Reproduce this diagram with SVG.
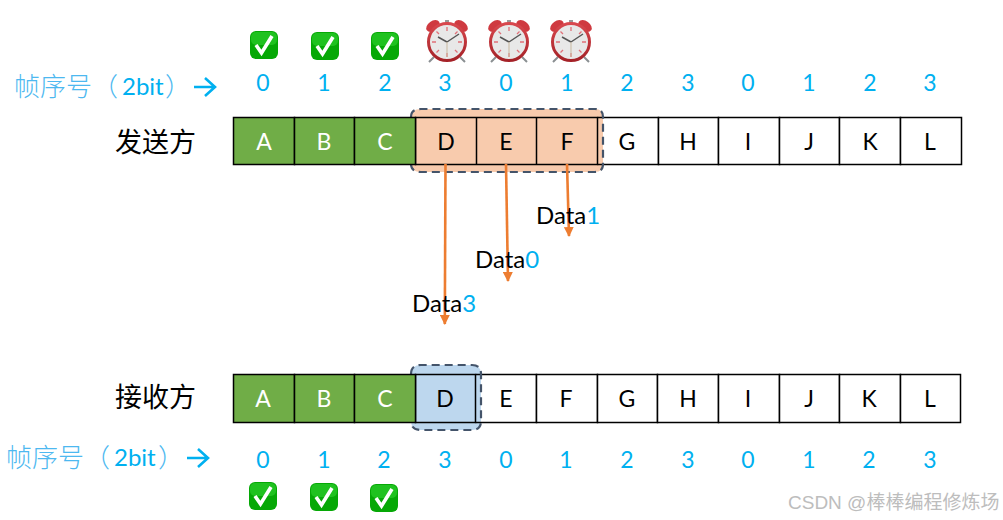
<svg xmlns="http://www.w3.org/2000/svg" width="1003" height="520" viewBox="0 0 1003 520">
<style>
text{font-family:"Lato","Liberation Sans","Noto Sans CJK SC",sans-serif}
.c{fill:#fff;stroke:#000;stroke-width:1.5}
.g{fill:#70ad47}
.l{font-size:23px;text-anchor:middle;fill:#000}
.w{fill:#fff}
.n{font-size:23px;text-anchor:middle;fill:#00b0f0}
.cjk{font-family:"Noto Sans CJK SC",sans-serif;font-size:27px;fill:#000}
.seq{font-family:"Noto Sans CJK SC",sans-serif;font-size:26px;font-weight:300;fill:#4db8f0}
.seq .sb{font-family:"Lato",sans-serif;font-size:24px;font-weight:400;fill:#00b0f0}
.d{font-size:24px;fill:#000}
.d tspan{fill:#00b0f0}
.dash{stroke:#44546a;stroke-width:2.2;stroke-dasharray:8 5}
.conn{stroke:#ed7d31;stroke-width:2.6;fill:none;marker-end:url(#ah)}
.arr{stroke:#00b0f0;stroke-width:2.6;fill:none}
</style>
<defs>
<marker id="ah" markerUnits="userSpaceOnUse" markerWidth="10" markerHeight="10" refX="9" refY="5" orient="auto" viewBox="0 0 10 10"><path d="M0 0 L10 5 L0 10 Z" fill="#ed7d31"/></marker>
<linearGradient id="rim" x1="0" y1="0" x2="0" y2="1"><stop offset="0" stop-color="#d8484e"/><stop offset="1" stop-color="#a52228"/></linearGradient>
<g id="check">
<rect x="-14" y="-14" width="28" height="28" rx="6" fill="#06a806"/>
<rect x="-13" y="-13" width="26" height="13" rx="5" fill="#1fc21f"/>
<path d="M-8 0 L-2.500 8 L8 -9" fill="none" stroke="#fff" stroke-width="3.600"/>
</g>
<g id="clock">
<path d="M-13 15 L-18 20 M13 15 L18 20" stroke="#8a8f92" stroke-width="2"/>
<ellipse cx="-14" cy="-16" rx="7.500" ry="5" transform="rotate(-35 -14 -16)" fill="#cf3a40"/>
<ellipse cx="14" cy="-16" rx="7.500" ry="5" transform="rotate(35 14 -16)" fill="#cf3a40"/>
<rect x="-2" y="-22" width="4" height="3" fill="#999"/>
<circle r="18.500" fill="#e8e8e8" stroke="url(#rim)" stroke-width="3"/>
<path d="M0 -15 V-11 M0 15 V11 M-15 0 H-11 M15 0 H11 M-10.500 -10.500 L-8 -8 M10.500 -10.500 L8 -8 M-10.500 10.500 L-8 8 M10.500 10.500 L8 8" stroke="#e07078" stroke-width="1.300"/>
<path d="M0 0 L-9 -5 M0 0 L12 -8" stroke="#555" stroke-width="1.500"/>
<path d="M0 0 V15" stroke="#c9b9a0" stroke-width="1"/>
</g>
</defs>

<g id="status-top">
<use href="#check" x="264" y="45"/><use href="#check" x="325" y="46"/><use href="#check" x="385" y="46"/>
<use href="#clock" x="447" y="42"/><use href="#clock" x="509" y="42"/><use href="#clock" x="571" y="42"/>
</g>

<g id="seq-top">
<text x="14" y="96" class="seq">帧序号（<tspan class="sb" x="122" y="95">2bit</tspan><tspan x="165" y="96">）</tspan></text>
<path class="arr" d="M194 87 H214 M205 78 L215 87 L205 96"/>
<text x="263" y="91" class="n">0</text><text x="324" y="91" class="n">1</text><text x="385" y="91" class="n">2</text><text x="445" y="91" class="n">3</text><text x="506" y="91" class="n">0</text><text x="567" y="91" class="n">1</text><text x="627" y="91" class="n">2</text><text x="688" y="91" class="n">3</text><text x="748" y="91" class="n">0</text><text x="809" y="91" class="n">1</text><text x="870" y="91" class="n">2</text><text x="930" y="91" class="n">3</text>
</g>

<g id="sender">
<text x="115" y="152" class="cjk">发送方</text>
<g id="sender-cells">
<rect x="597.500" y="117.500" width="61" height="47" class="c"/><rect x="658.500" y="117.500" width="60" height="47" class="c"/><rect x="718.500" y="117.500" width="61" height="47" class="c"/><rect x="779.500" y="117.500" width="60" height="47" class="c"/><rect x="839.500" y="117.500" width="61" height="47" class="c"/><rect x="900.500" y="117.500" width="61" height="47" class="c"/>
</g>
<g id="sender-window">
<path d="M421 109 H595 Q603 109 603 117 V164 Q603 172 595 172 H421 Q411 172 411 164 V117 Q411 109 421 109 Z" fill="#f8cbad"/>
<path d="M415.500 117.500 H597.500 V164.500 H415.500 Z M476.500 117.500 V164.500 M536.500 117.500 V164.500" fill="none" stroke="#000" stroke-width="1.500"/>
<path d="M597.500 117.500 H603 M597.500 164.500 H603" stroke="#000" stroke-width="1.500"/>
<path class="dash" fill="none" d="M411 117 Q411 109 421 109 H595 Q603 109 603 117 V164 Q603 172 595 172 H421 Q411 172 411 164"/>
</g>
<rect x="233.500" y="117.500" width="61" height="47" class="c g"/><rect x="294.500" y="117.500" width="60" height="47" class="c g"/><rect x="354.500" y="117.500" width="61" height="47" class="c g"/>
<text x="264" y="150" class="l w">A</text><text x="324" y="150" class="l w">B</text><text x="385" y="150" class="l w">C</text><text x="446" y="150" class="l">D</text><text x="506" y="150" class="l">E</text><text x="567" y="150" class="l">F</text><text x="627" y="150" class="l">G</text><text x="688" y="150" class="l">H</text><text x="748" y="150" class="l">I</text><text x="809" y="150" class="l">J</text><text x="870" y="150" class="l">K</text><text x="930" y="150" class="l">L</text>
</g>

<g id="connectors">
<path class="conn" d="M445.500 164 L444.800 324"/>
<path class="conn" d="M506 164 L508 281"/>
<path class="conn" d="M567 164 L569 236"/>
</g>

<g id="data-labels">
<text x="536" y="224" class="d">Data<tspan>1</tspan></text>
<text x="475" y="268" class="d">Data<tspan>0</tspan></text>
<text x="412" y="312" class="d">Data<tspan>3</tspan></text>
</g>

<g id="receiver">
<text x="115" y="407" class="cjk">接收方</text>
<g id="receiver-cells">
<rect x="475.500" y="374.500" width="61" height="48" class="c"/><rect x="536.500" y="374.500" width="61" height="48" class="c"/><rect x="597.500" y="374.500" width="60" height="48" class="c"/><rect x="657.500" y="374.500" width="61" height="48" class="c"/><rect x="718.500" y="374.500" width="61" height="48" class="c"/><rect x="779.500" y="374.500" width="60" height="48" class="c"/><rect x="839.500" y="374.500" width="61" height="48" class="c"/><rect x="900.500" y="374.500" width="60" height="48" class="c"/>
</g>
<g id="receiver-window">
<path d="M421 365 H472 Q481 365 481 374 V421 Q481 430 472 430 H421 Q411 430 411 421 V374 Q411 365 421 365 Z" fill="#bdd7ee"/>
<path d="M415.500 374.500 H475.500 V422.500 H415.500 Z" fill="none" stroke="#000" stroke-width="1.500"/>
<path d="M475.500 374.500 H481 M475.500 422.500 H481" stroke="#000" stroke-width="1.500"/>
<path class="dash" fill="none" d="M411 374 Q411 365 421 365 H472 Q481 365 481 374 V421 Q481 430 472 430 H421 Q411 430 411 421"/>
</g>
<rect x="233.500" y="374.500" width="61" height="48" class="c g"/><rect x="294.500" y="374.500" width="60" height="48" class="c g"/><rect x="354.500" y="374.500" width="61" height="48" class="c g"/>
<text x="263" y="407" class="l w">A</text><text x="324" y="407" class="l w">B</text><text x="385" y="407" class="l w">C</text><text x="445" y="407" class="l">D</text><text x="506" y="407" class="l">E</text><text x="566" y="407" class="l">F</text><text x="627" y="407" class="l">G</text><text x="688" y="407" class="l">H</text><text x="748" y="407" class="l">I</text><text x="809" y="407" class="l">J</text><text x="869" y="407" class="l">K</text><text x="930" y="407" class="l">L</text>
</g>

<g id="seq-bottom">
<text x="6" y="467" class="seq">帧序号（<tspan class="sb" x="114" y="466">2bit</tspan><tspan x="158" y="467">）</tspan></text>
<path class="arr" d="M187 458 H207 M198 449 L208 458 L198 467"/>
<text x="263" y="468" class="n">0</text><text x="324" y="468" class="n">1</text><text x="384" y="468" class="n">2</text><text x="445" y="468" class="n">3</text><text x="506" y="468" class="n">0</text><text x="566" y="468" class="n">1</text><text x="627" y="468" class="n">2</text><text x="688" y="468" class="n">3</text><text x="748" y="468" class="n">0</text><text x="809" y="468" class="n">1</text><text x="869" y="468" class="n">2</text><text x="930" y="468" class="n">3</text>
</g>

<g id="status-bottom">
<use href="#check" x="263" y="496"/><use href="#check" x="324" y="497"/><use href="#check" x="384" y="498"/>
</g>

<text id="watermark" x="788" y="509" font-size="19" fill="#bdbdbd" style="font-family:'Liberation Sans','Noto Sans CJK SC',sans-serif">CSDN @棒棒编程修炼场</text>
</svg>
